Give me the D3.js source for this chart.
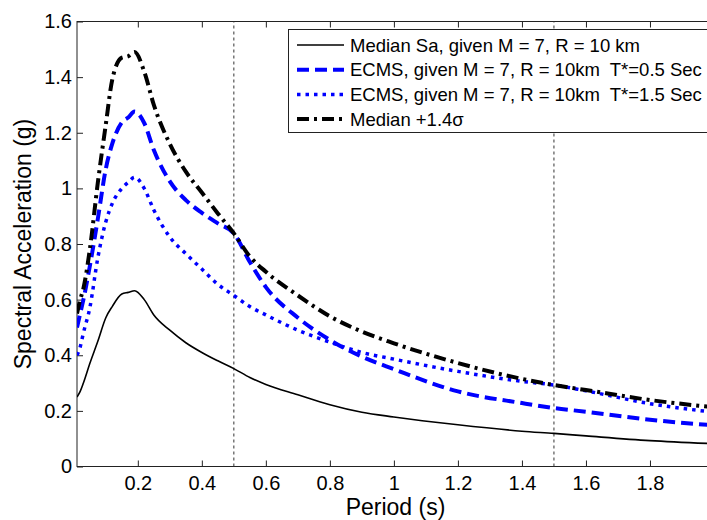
<!DOCTYPE html>
<html>
<head>
<meta charset="utf-8">
<script src="https://cdn.jsdelivr.net/npm/d3@7"></script>
<style>
  body { margin: 0; background: #fff; }
  svg text { font-family: "Liberation Sans", Arial, sans-serif; fill: #000; white-space: pre; }
</style>
</head>
<body>
<div id="chartVis"></div>
<script>
// periods (s) shared by every series
var periods = [0.01, 0.02, 0.03, 0.05, 0.075, 0.1, 0.12, 0.15, 0.17, 0.19, 0.22, 0.25, 0.3, 0.35, 0.4, 0.45, 0.5, 0.55, 0.6, 0.7, 0.8, 0.9, 1.0, 1.2, 1.4, 1.5, 1.6, 1.8, 2.0];

// Sa values (g)
var medianSa = [0.25, 0.27, 0.30, 0.37, 0.45, 0.535, 0.575, 0.62, 0.626, 0.632, 0.60, 0.545, 0.49, 0.445, 0.41, 0.38, 0.352, 0.32, 0.295, 0.258, 0.222, 0.195, 0.178, 0.15, 0.127, 0.119, 0.11, 0.093, 0.082];
var ecms05 = [0.50, 0.55, 0.60, 0.72, 0.89, 1.07, 1.16, 1.237, 1.255, 1.276, 1.235, 1.138, 1.025, 0.958, 0.912, 0.874, 0.838, 0.735, 0.645, 0.535, 0.455, 0.395, 0.35, 0.27, 0.228, 0.21, 0.197, 0.168, 0.148];
var ecms15 = [0.40, 0.43, 0.48, 0.57, 0.75, 0.88, 0.945, 1.0, 1.022, 1.04, 1.0, 0.922, 0.825, 0.765, 0.71, 0.655, 0.615, 0.575, 0.545, 0.49, 0.447, 0.41, 0.386, 0.342, 0.306, 0.293, 0.272, 0.226, 0.195];
var medianPlus = [0.55, 0.60, 0.64, 0.78, 1.02, 1.23, 1.39, 1.47, 1.475, 1.49, 1.42, 1.30, 1.16, 1.06, 0.985, 0.91, 0.838, 0.755, 0.70, 0.615, 0.54, 0.485, 0.443, 0.372, 0.315, 0.293, 0.275, 0.239, 0.213];

var seriesNames = ["Median Sa, given M = 7, R = 10 km",
                   "ECMS, given M = 7, R = 10km  T*=0.5 Sec",
                   "ECMS, given M = 7, R = 10km  T*=1.5 Sec",
                   "Median +1.4\u03c3"];

var xTicks = [0.2, 0.4, 0.6, 0.8, 1, 1.2, 1.4, 1.6, 1.8];
var xTickLabels = ["0.2", "0.4", "0.6", "0.8", "1", "1.2", "1.4", "1.6", "1.8"];
var yTicks = [0, 0.2, 0.4, 0.6, 0.8, 1, 1.2, 1.4, 1.6];
var yTickLabels = ["0", "0.2", "0.4", "0.6", "0.8", "1", "1.2", "1.4", "1.6"];
var conditioningPeriods = [0.5, 1.5];

var width = 707, height = 520;
var margin = { top: 21.5, left: 77, right: -7, bottom: 53.5 };

var svg = d3.select("#chartVis").append("svg")
  .attr("width", width)
  .attr("height", height);

var x = d3.scaleLinear().domain([0.01, 2]).range([margin.left, width - margin.right]);
var y = d3.scaleLinear().domain([0, 1.6]).range([height - margin.bottom, margin.top]);

svg.append("defs").append("clipPath").attr("id", "plotClip")
  .append("rect")
  .attr("x", x.range()[0]).attr("y", y.range()[1])
  .attr("width", x.range()[1] - x.range()[0])
  .attr("height", y.range()[0] - y.range()[1]);

// axes (ticks point inward like matlab)
svg.append("g")
  .attr("transform", "translate(0," + y(0) + ")")
  .call(d3.axisBottom(x).tickValues(xTicks).tickSizeInner(-6).tickSizeOuter(0).tickPadding(9)
    .tickFormat((d, i) => xTickLabels[i]))
  .call(g => g.select(".domain").remove())
  .call(g => g.selectAll("text").attr("font-size", 20).attr("font-family", "Liberation Sans, Arial, sans-serif"));

svg.append("g")
  .attr("transform", "translate(0," + y(1.6) + ")")
  .call(d3.axisTop(x).tickValues(xTicks).tickSizeInner(-6).tickSizeOuter(0).tickFormat(""))
  .call(g => g.select(".domain").remove());

svg.append("g")
  .attr("transform", "translate(" + x(0.01) + ",0)")
  .call(d3.axisLeft(y).tickValues(yTicks).tickSizeInner(-6).tickSizeOuter(0).tickPadding(5)
    .tickFormat((d, i) => yTickLabels[i]))
  .call(g => g.select(".domain").remove())
  .call(g => g.selectAll("text").attr("font-size", 20).attr("font-family", "Liberation Sans, Arial, sans-serif"));

svg.selectAll(".tick line").attr("stroke", "#222");

// plot box
svg.append("rect")
  .attr("x", x.range()[0]).attr("y", y.range()[1])
  .attr("width", x.range()[1] - x.range()[0])
  .attr("height", y.range()[0] - y.range()[1])
  .attr("fill", "none").attr("stroke", "#222").attr("stroke-width", 1);

// conditioning period markers
svg.selectAll(".tstar").data(conditioningPeriods).enter().append("line")
  .attr("x1", d => x(d)).attr("x2", d => x(d))
  .attr("y1", y(0)).attr("y2", y(1.6))
  .attr("stroke", "#333").attr("stroke-width", 1).attr("stroke-dasharray", "3,3");

// series
var styles = [
  { values: medianSa, color: "#000", width: 1.6, dash: null },
  { values: ecms05, color: "#0000ff", width: 4, dash: "12,6" },
  { values: ecms15, color: "#0000ff", width: 3.5, dash: "3.5,5" },
  { values: medianPlus, color: "#000", width: 4, dash: "12,5,3,5" }
];

var line = d3.line()
  .x(d => x(d[0]))
  .y(d => y(d[1]))
  .curve(d3.curveMonotoneX);

var plot = svg.append("g").attr("clip-path", "url(#plotClip)");
styles.forEach(function(s) {
  plot.append("path")
    .datum(d3.zip(periods, s.values))
    .attr("d", line)
    .attr("fill", "none")
    .attr("stroke", s.color)
    .attr("stroke-width", s.width)
    .attr("stroke-dasharray", s.dash);
});

// legend
var legend = svg.append("g");
legend.append("rect")
  .attr("x", 288.5).attr("y", 29.5)
  .attr("width", 440).attr("height", 103)
  .attr("fill", "#fff").attr("stroke", "#222").attr("stroke-width", 1);

styles.forEach(function(s, i) {
  var ly = 45 + i * 24.7;
  legend.append("line")
    .attr("x1", 297).attr("x2", 344).attr("y1", ly).attr("y2", ly)
    .attr("stroke", s.color)
    .attr("stroke-width", s.width)
    .attr("stroke-dasharray", s.dash);
  legend.append("text")
    .attr("x", 350).attr("y", ly + 6.5)
    .attr("font-size", 18.5)
    .text(seriesNames[i]);
});

// axis titles
svg.append("text")
  .attr("x", (x.range()[0] + x.range()[1]) / 2).attr("y", 515)
  .attr("text-anchor", "middle").attr("font-size", 23)
  .text("Period (s)");

svg.append("text")
  .attr("transform", "translate(31," + ((y.range()[0] + y.range()[1]) / 2) + ") rotate(-90)")
  .attr("text-anchor", "middle").attr("font-size", 23)
  .text("Spectral Acceleration (g)");
</script>
</body>
</html>
